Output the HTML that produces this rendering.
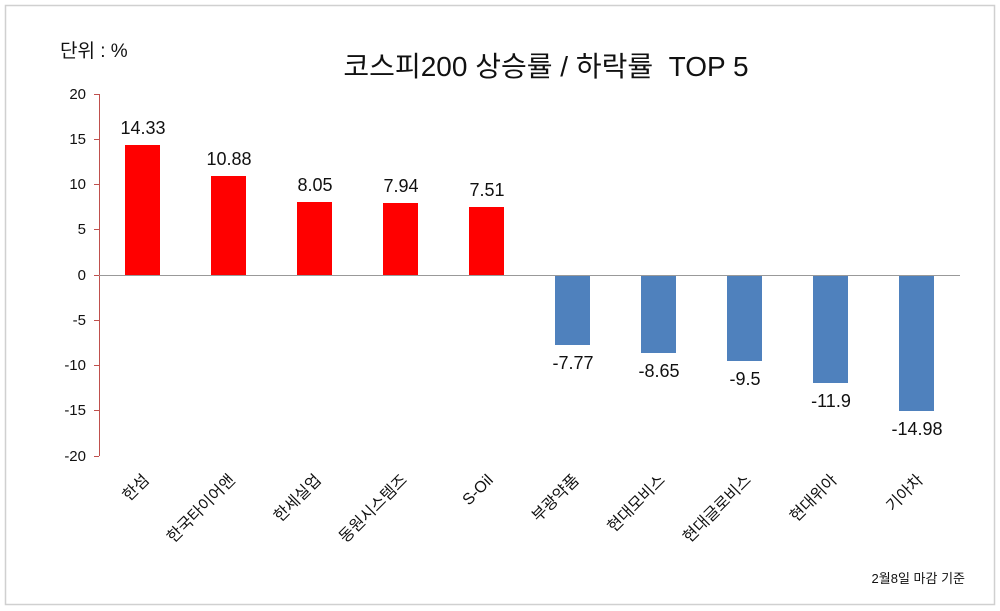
<!DOCTYPE html><html><head><meta charset="utf-8"><style>body{margin:0;background:#fff}svg{display:block}text{font-family:"Liberation Sans","Noto Sans CJK KR",sans-serif}</style></head><body>
<svg width="1000" height="611" xmlns="http://www.w3.org/2000/svg">
<rect x="5.5" y="5.5" width="989" height="599" fill="#fff" stroke="#d0d0d0" stroke-width="1.5"/>
<text x="546" y="76" text-anchor="middle" font-size="28" fill="#111" style="white-space:pre">코스피200 상승률 / 하락률  TOP 5</text>
<text x="60" y="57" font-size="19" fill="#111">단위 : %</text>
<g font-size="15" fill="#111" text-anchor="end">
<text x="86" y="99">20</text><text x="86" y="144">15</text><text x="86" y="189">10</text><text x="86" y="234">5</text><text x="86" y="280">0</text><text x="86" y="325">-5</text><text x="86" y="370">-10</text><text x="86" y="415">-15</text><text x="86" y="461">-20</text>
</g>
<g stroke="#c0504d" stroke-width="1">
<line x1="99.5" y1="94" x2="99.5" y2="456"/>
<line x1="94" y1="94.5" x2="99" y2="94.5"/><line x1="94" y1="139.5" x2="99" y2="139.5"/><line x1="94" y1="184.5" x2="99" y2="184.5"/><line x1="94" y1="229.5" x2="99" y2="229.5"/><line x1="94" y1="275.5" x2="99" y2="275.5"/><line x1="94" y1="320.5" x2="99" y2="320.5"/><line x1="94" y1="365.5" x2="99" y2="365.5"/><line x1="94" y1="410.5" x2="99" y2="410.5"/><line x1="94" y1="456.5" x2="99" y2="456.5"/>
</g>
<g fill="#ff0000">
<rect x="125" y="145" width="35" height="130"/>
<rect x="211" y="176" width="35" height="99"/>
<rect x="297" y="202" width="35" height="73"/>
<rect x="383" y="203" width="35" height="72"/>
<rect x="469" y="207" width="35" height="68"/>
</g>
<g fill="#4f81bd">
<rect x="555" y="275" width="35" height="70"/>
<rect x="641" y="275" width="35" height="78"/>
<rect x="727" y="275" width="35" height="86"/>
<rect x="813" y="275" width="35" height="108"/>
<rect x="899" y="275" width="35" height="136"/>
</g>
<line x1="99" y1="275.5" x2="960" y2="275.5" stroke="#999" stroke-width="1"/>
<g font-size="18" fill="#111" text-anchor="middle">
<text x="143" y="134">14.33</text><text x="229" y="165">10.88</text><text x="315" y="191">8.05</text><text x="401" y="192">7.94</text><text x="487" y="196">7.51</text>
<text x="573" y="369">-7.77</text><text x="659" y="377">-8.65</text><text x="745" y="385">-9.5</text><text x="831" y="407">-11.9</text><text x="917" y="435">-14.98</text>
</g>
<g font-size="16" fill="#111" text-anchor="end">
<text transform="translate(150,481) rotate(-45)">한섬</text>
<text transform="translate(236,481) rotate(-45)">한국타이어앤</text>
<text transform="translate(322,481) rotate(-45)">한세실업</text>
<text transform="translate(408,481) rotate(-45)">동원시스템즈</text>
<text transform="translate(494,481) rotate(-45)">S-Oil</text>
<text transform="translate(580,481) rotate(-45)">부광약품</text>
<text transform="translate(666,481) rotate(-45)">현대모비스</text>
<text transform="translate(752,481) rotate(-45)">현대글로비스</text>
<text transform="translate(838,481) rotate(-45)">현대위아</text>
<text transform="translate(924,481) rotate(-45)">기아차</text>
</g>
<text x="965" y="583" text-anchor="end" font-size="13" fill="#111">2월8일 마감 기준</text>
</svg>
</body></html>
